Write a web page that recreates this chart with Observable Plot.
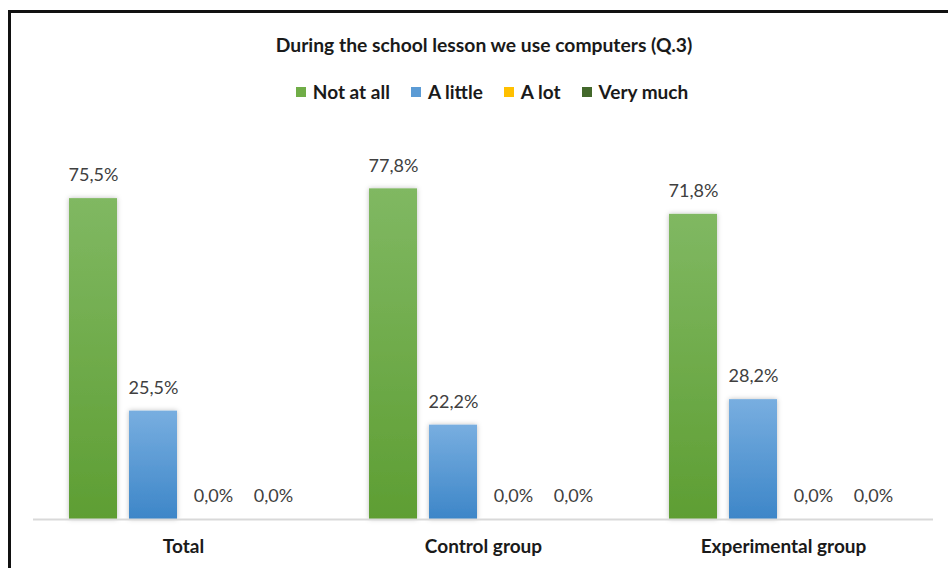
<!DOCTYPE html>
<html>
<head>
<meta charset="utf-8">
<script src="https://cdn.jsdelivr.net/npm/d3@7"></script>
<script src="https://cdn.jsdelivr.net/npm/@observablehq/plot@0.6"></script>
<style>
  html, body { margin: 0; padding: 0; background: #fff; }
  body { width: 948px; height: 568px; position: relative; overflow: hidden; font-family: Lato, "Liberation Sans", sans-serif; }
  #frame { position: absolute; left: 8px; top: 10px; width: 1000px; height: 700px; border-left: 3px solid #111; border-top: 3px solid #111; }
  #title { position: absolute; left: 0; width: 968px; top: 33px; text-align: center; font-weight: bold; font-size: 19.3px; color: #1a1a1a; }
  #legend { position: absolute; left: 0; width: 984px; top: 80px; display: flex; justify-content: center; gap: 21px; font-weight: bold; font-size: 19px; color: #1a1a1a; }
  #legend .item { display: flex; align-items: center; gap: 7px; }
  #legend .sw { width: 10px; height: 10px; display: inline-block; }
  #chart { position: absolute; left: 0; top: 0; }
</style>
</head>
<body>
<div id="frame"></div>
<div id="chart"></div>
<div id="title"></div>
<div id="legend"></div>
<script>
const title = "During the school lesson we use computers (Q.3)";
const groups = ["Total", "Control group", "Experimental group"];
const series = ["Not at all", "A little", "A lot", "Very much"];
const legendColors = ["#70ad47", "#5b9bd5", "#ffc000", "#43682b"];
const notAtAll = [75.5, 77.8, 71.8];
const aLittle = [25.5, 22.2, 28.2];
const aLot = [0.0, 0.0, 0.0];
const veryMuch = [0.0, 0.0, 0.0];

const valuesBySeries = [notAtAll, aLittle, aLot, veryMuch];
const data = [];
groups.forEach((g, gi) => {
  series.forEach((s, si) => {
    data.push({group: g, series: s, value: valuesBySeries[si][gi]});
  });
});
const gradFill = {"Not at all": "url(#gGreen)", "A little": "url(#gBlue)", "A lot": "url(#gYellow)", "Very much": "url(#gDark)"};
const fmt = v => v.toFixed(1).replace(".", ",") + "%";

document.getElementById("title").textContent = title;
const leg = document.getElementById("legend");
series.forEach((s, i) => {
  const it = document.createElement("div");
  it.className = "item";
  const sw = document.createElement("span");
  sw.className = "sw";
  sw.style.background = legendColors[i];
  const t = document.createElement("span");
  t.textContent = s;
  it.appendChild(sw); it.appendChild(t);
  leg.appendChild(it);
});

const chart = Plot.plot({
  width: 948,
  height: 568,
  marginLeft: 33,
  marginRight: 15,
  marginTop: 94,
  marginBottom: 49,
  style: {fontFamily: "Lato, 'Liberation Sans', sans-serif", background: "transparent"},
  fx: {domain: groups, padding: 0, label: null, axis: "bottom", tickSize: 0, tickPadding: 20},
  x: {domain: series, paddingInner: 0.2, paddingOuter: 0.6, axis: null},
  y: {domain: [0, 100], axis: null},
  marks: [
    ...series.map(s => Plot.barY(data.filter(d => d.series === s), {fx: "group", x: "series", y: "value", fill: gradFill[s]})),
    Plot.ruleY([0], {stroke: "#d9d9d9", strokeWidth: 2}),
    Plot.text(data, {fx: "group", x: "series", y: "value", text: d => fmt(d.value), dy: -23, fontSize: 18, fill: "#404040"})
  ]
});

// gradients and shadow
const defs = d3.select(chart).insert("defs", ":first-child");
function grad(id, top, bottom) {
  const g = defs.append("linearGradient").attr("id", id).attr("x1", 0).attr("y1", 0).attr("x2", 0).attr("y2", 1);
  g.append("stop").attr("offset", "0%").attr("stop-color", top);
  g.append("stop").attr("offset", "100%").attr("stop-color", bottom);
}
grad("gGreen", "#80b862", "#5e9e33");
grad("gBlue", "#78aee0", "#3d86c8");
grad("gYellow", "#ffcd3a", "#f0b400");
grad("gDark", "#527a38", "#3a5e24");
const f = defs.append("filter").attr("id", "shadow").attr("x", "-30%").attr("y", "-10%").attr("width", "160%").attr("height", "130%");
f.append("feDropShadow").attr("dx", 0).attr("dy", 0).attr("stdDeviation", 2.5).attr("flood-color", "#000").attr("flood-opacity", 0.25);
d3.select(chart).selectAll("rect").attr("filter", "url(#shadow)");
d3.select(chart).selectAll("[aria-label='fx-axis tick label'] text, [aria-label='fx-axis tick label']")
  .attr("font-weight", "bold").attr("font-size", 19).attr("fill", "#1a1a1a");

document.getElementById("chart").appendChild(chart);
</script>
</body>
</html>
